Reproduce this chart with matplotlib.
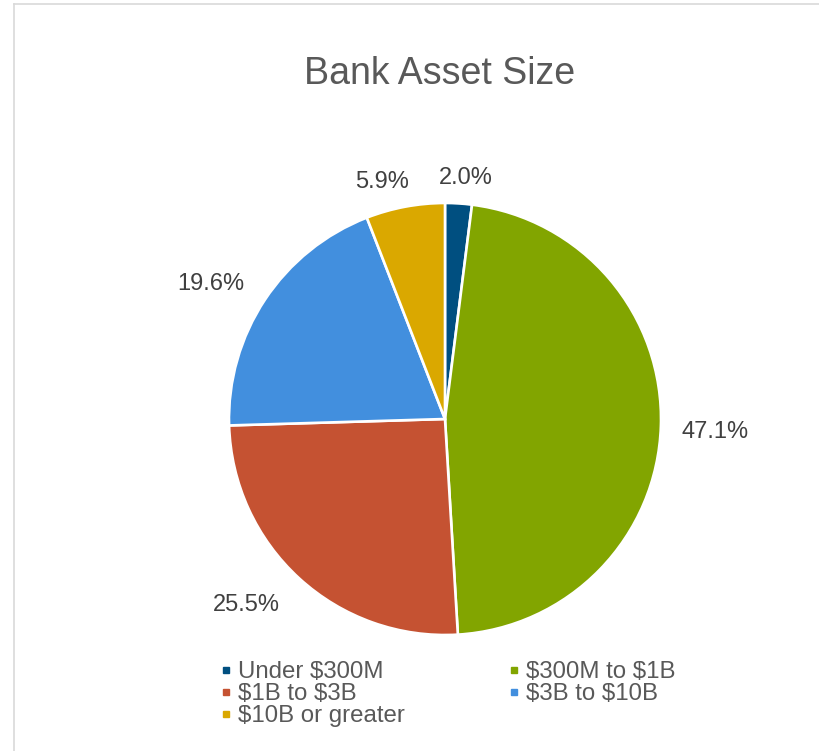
import numpy as np
import matplotlib.pyplot as plt
from matplotlib.lines import Line2D

plt.rcParams['font.family'] = ['Liberation Sans', 'DejaVu Sans']

# 数据
categories = ['Under \\$300M', '\\$300M to \\$1B', '\\$1B to \\$3B', '\\$3B to \\$10B', '\\$10B or greater']
shares = [2.0, 47.1, 25.5, 19.6, 5.9]
colors = ['#004F80', '#82A500', '#C55232', '#428FDE', '#DAA800']

# 标签放在扇区外侧（半径倍数、角度微调）
label_r = [1.12, 1.25, 1.258, 1.253, 1.134]
label_nudge = [-1.3, -0.9, -4.4, 3.6, 4.3]

W, H = 819, 751
fig = plt.figure(figsize=(W / 100, H / 100), dpi=100)

# 外框（左、上两条边）
fig.add_artist(Line2D([13.5 / W, 13.5 / W], [0, 1 - 3.5 / H], color='#D9D9D9', linewidth=1.2))
fig.add_artist(Line2D([13.5 / W, 1], [1 - 3.5 / H, 1 - 3.5 / H], color='#D9D9D9', linewidth=1.2))

# 饼图区域：圆心 (445, 419)，半径 216 像素
half = 300
ax = fig.add_axes([(445 - half) / W, (H - 419 - half) / H, 2 * half / W, 2 * half / H])
wedges, _ = ax.pie(shares, colors=colors, startangle=90, counterclock=False,
                   wedgeprops={'edgecolor': 'white', 'linewidth': 1.9})
lim = half / 216
ax.set_xlim(-lim, lim)
ax.set_ylim(-lim, lim)
ax.set_aspect('equal')
ax.axis('off')

for w, v, r, d in zip(wedges, shares, label_r, label_nudge):
    a = np.deg2rad((w.theta1 + w.theta2) / 2 + d)
    ax.text(r * np.cos(a), r * np.sin(a), f'{v:.1f}%', ha='center', va='center',
            fontsize=17, color='#404040')

fig.text(440 / W, 1 - 74 / H, 'Bank Asset Size', ha='center', va='center',
         fontsize=27, color='#595959')

# 图例：两列，按行排列
handles = [Line2D([], [], marker='s', linestyle='none', markersize=5,
                  markerfacecolor=c, markeredgecolor=c) for c in colors]
order = [0, 2, 4, 1, 3]
leg = fig.legend([handles[i] for i in order], [categories[i] for i in order],
                 ncol=2, loc='upper left', bbox_to_anchor=(220 / W, 1 - 661 / H),
                 frameon=False, fontsize=17.3, handlelength=0.5, handletextpad=0.25,
                 columnspacing=4.3, labelspacing=0.0, borderpad=0, borderaxespad=0)
for t in leg.get_texts():
    t.set_color('#595959')

fig.savefig('out.png', dpi=100)
